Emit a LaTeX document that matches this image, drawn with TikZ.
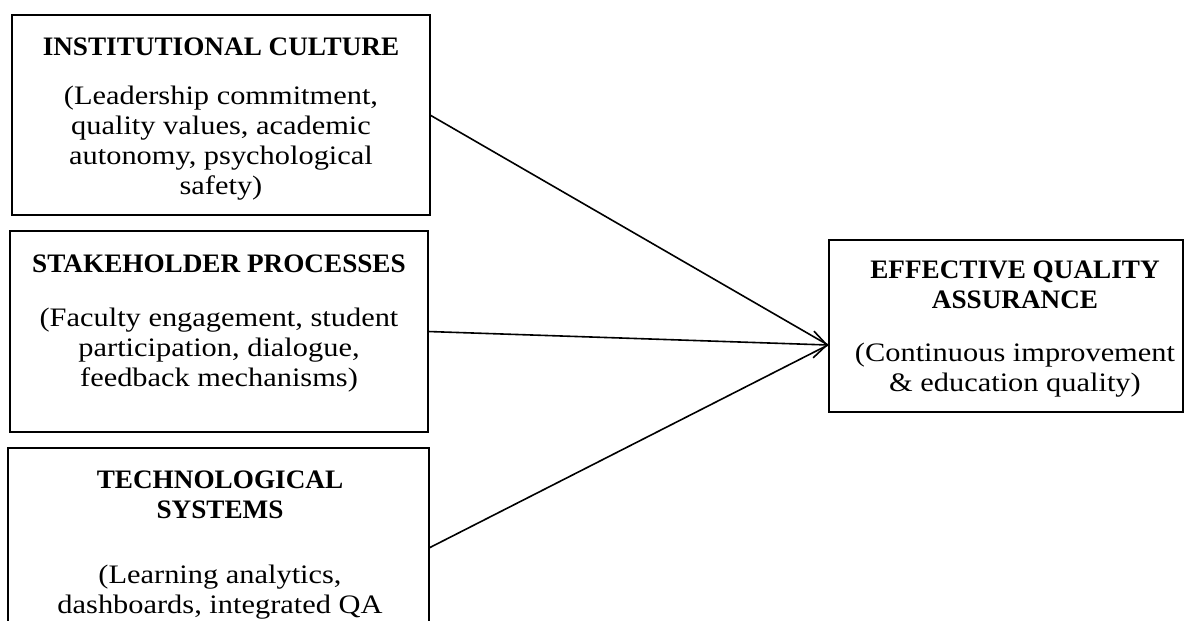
\documentclass[tikz,border=0pt]{standalone}
\usepackage{fontspec}
\setmainfont{Liberation Serif}[FakeStretch=1.14, BoldFeatures={FakeStretch=1.02}]
\usetikzlibrary{arrows.meta,calc}
\begin{document}
\begin{tikzpicture}[x=0.75pt,y=-0.75pt,
  boxstyle/.style={draw, line width=1.1pt, inner sep=0pt, outer sep=0pt},
  txt/.style={align=center, inner sep=0pt, anchor=north, font=\fontsize{20}{22.5}\selectfont},
  conn/.style={line width=1.2pt},
  tip/.style={-{Straight Barb[length=10pt,width=20pt,line width=1.2pt]}}]
\useasboundingbox (0,0) rectangle (1197,621);
\clip (0,0) rectangle (1197,621);
\node[boxstyle, minimum width=313.5pt, minimum height=150pt] (b1) at (221,115) {};
\node[boxstyle, minimum width=313.5pt, minimum height=150.75pt] (b2) at (219,331.5) {};
\node[boxstyle, minimum width=315.75pt, minimum height=150pt] (b3) at (218.5,548) {};
\node[boxstyle, minimum width=265.5pt, minimum height=129pt] (b4) at (1006,326) {};
\node[txt] (t1) at (221,38) {\textbf{INSTITUTIONAL CULTURE}\\[14pt]
  (Leadership commitment,\\ quality values, academic\\ autonomy, psychological\\ safety)};
\node[txt] (t2) at (219,255) {\textbf{STAKEHOLDER PROCESSES}\\[18pt]
  (Faculty engagement, student\\ participation, dialogue,\\ feedback mechanisms)};
\node[txt] (t3) at (220,471) {\textbf{TECHNOLOGICAL}\\ \textbf{SYSTEMS}\\[26pt]
  (Learning analytics,\\ dashboards, integrated QA};
\node[txt] (t4) at (1015,261) {\textbf{EFFECTIVE QUALITY}\\ \textbf{ASSURANCE}\\[17pt]
  (Continuous improvement\\ \& education quality)};
\coordinate (tp) at (828,345);
\draw[conn] (b1.east) -- (tp);
\draw[conn,tip] (b2.east) -- (tp);
\draw[conn] (b3.east) -- (tp);
\end{tikzpicture}
\end{document}
